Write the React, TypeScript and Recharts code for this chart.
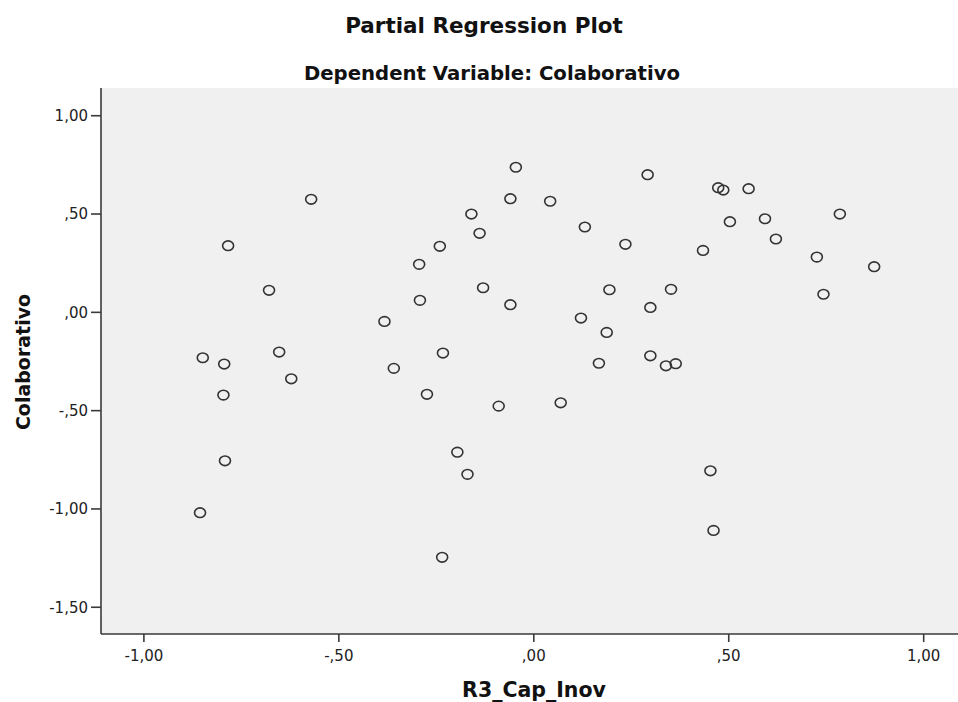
import React from 'react';
import { ScatterChart, Scatter, XAxis, YAxis, CartesianGrid } from 'recharts';

const chartTitle = 'Partial Regression Plot';
const chartSubtitle = 'Dependent Variable: Colaborativo';
const xAxisTitle = 'R3_Cap_Inov';
const yAxisTitle = 'Colaborativo';

const xValues = [
  -0.849, -0.794, -0.796, -0.792, -0.856, -0.679, -0.653, -0.622, -0.571, -0.784,
  -0.383, -0.359, -0.294, -0.292, -0.274, -0.241, -0.233, -0.196, -0.170, -0.160,
  -0.139, -0.130, -0.090, -0.060, -0.060, -0.046, -0.235, 0.042, 0.069, 0.121,
  0.131, 0.167, 0.187, 0.194, 0.235, 0.292, 0.299, 0.299, 0.339, 0.352,
  0.364, 0.434, 0.453, 0.461, 0.473, 0.486, 0.503, 0.551, 0.593, 0.621,
  0.726, 0.743, 0.785, 0.873,
];
const yValues = [
  -0.231, -0.263, -0.421, -0.755, -1.019, 0.112, -0.202, -0.338, 0.575, 0.339,
  -0.046, -0.285, 0.244, 0.061, -0.417, 0.336, -0.207, -0.711, -0.824, 0.500,
  0.402, 0.125, -0.477, 0.578, 0.039, 0.738, -1.246, 0.565, -0.460, -0.029,
  0.434, -0.259, -0.102, 0.115, 0.346, 0.700, 0.025, -0.221, -0.272, 0.117,
  -0.261, 0.315, -0.806, -1.109, 0.634, 0.622, 0.461, 0.629, 0.476, 0.373,
  0.281, 0.092, 0.500, 0.232,
];

const xTickValues = [-1, -0.5, 0, 0.5, 1];
const xTickLabels = ['-1,00', '-,50', ',00', ',50', '1,00'];
const yTickValues = [-1.5, -1, -0.5, 0, 0.5, 1];
const yTickLabels = ['-1,50', '-1,00', '-,50', ',00', ',50', '1,00'];

const xDomain: [number, number] = [-1.11, 1.088];
const yDomain: [number, number] = [-1.636, 1.141];

const data = xValues.map((x, i) => ({ x, y: yValues[i] }));

const FONT = '"DejaVu Sans", sans-serif';
const AXIS = '#3a3a3a';

const Marker = (props: any) => {
  const { cx, cy } = props;
  if (cx == null || cy == null) return null;
  return <ellipse cx={cx} cy={cy} rx={5.5} ry={4.8} fill="none" stroke="#333" strokeWidth={1.6} />;
};

const fmt = (ticks: number[], labels: string[]) => (v: number) => {
  const i = ticks.findIndex((t) => Math.abs(t - v) < 1e-9);
  return i >= 0 ? labels[i] : String(v);
};

const XTitle = (props: any) => {
  const vb = props.viewBox || {};
  return (
    <text x={vb.x + vb.width / 2 + 4.5} y={697} textAnchor="middle" fontFamily={FONT} fontWeight="bold" fontSize={20.5} fill="#111">
      {xAxisTitle}
    </text>
  );
};

const YTitle = (props: any) => {
  const vb = props.viewBox || {};
  const cy = vb.y + vb.height / 2 + 1;
  return (
    <text x={23} y={cy} transform={`rotate(-90, 23, ${cy})`} textAnchor="middle" dominantBaseline="central" fontFamily={FONT} fontWeight="bold" fontSize={19} fill="#111">
      {yAxisTitle}
    </text>
  );
};

export default function App() {
  return (
    <div style={{ position: 'absolute', left: 0, top: 0, width: 958, height: 702, background: '#fff' }}>
      <ScatterChart width={958} height={702} margin={{ top: 88, right: 0, bottom: 0, left: 0 }}>
        <CartesianGrid horizontal={false} vertical={false} fill="#f0f0f0" />
        <XAxis
          dataKey="x"
          type="number"
          domain={xDomain}
          ticks={xTickValues}
          tickFormatter={fmt(xTickValues, xTickLabels)}
          allowDataOverflow
          height={68}
          tickSize={8}
          tickMargin={8}
          axisLine={{ stroke: AXIS, strokeWidth: 1.6 }}
          tickLine={{ stroke: AXIS, strokeWidth: 1.6 }}
          tick={{ fontFamily: FONT, fontSize: 15, fill: '#222' }}
          label={<XTitle />}
        />
        <XAxis
          xAxisId="top"
          orientation="top"
          type="number"
          domain={xDomain}
          allowDataOverflow
          height={0}
          tick={false}
          tickLine={false}
          axisLine={{ stroke: '#555', strokeWidth: 1.6 }}
        />
        <YAxis
          dataKey="y"
          type="number"
          domain={yDomain}
          ticks={yTickValues}
          tickFormatter={fmt(yTickValues, yTickLabels)}
          allowDataOverflow
          width={101}
          tickSize={10}
          tickMargin={3}
          axisLine={{ stroke: AXIS, strokeWidth: 1.6 }}
          tickLine={{ stroke: AXIS, strokeWidth: 1.6 }}
          tick={{ fontFamily: FONT, fontSize: 15, fill: '#222' }}
          label={<YTitle />}
        />
        <Scatter data={data} shape={<Marker />} isAnimationActive={false} />
      </ScatterChart>
      <svg width={958} height={90} style={{ position: 'absolute', left: 0, top: 0, pointerEvents: 'none' }}>
        <text x={484} y={33} textAnchor="middle" fontFamily={FONT} fontWeight="bold" fontSize={21.5} fill="#111">
          {chartTitle}
        </text>
        <text x={492} y={80} textAnchor="middle" fontFamily={FONT} fontWeight="bold" fontSize={19.7} fill="#111">
          {chartSubtitle}
        </text>
      </svg>
    </div>
  );
}
